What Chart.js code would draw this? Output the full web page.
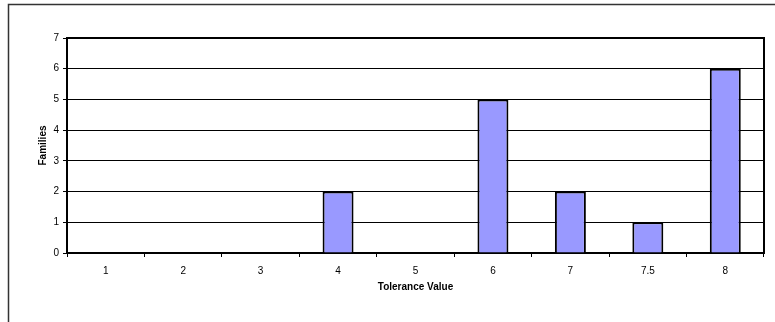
<!DOCTYPE html>
<html>
<head>
<meta charset="utf-8">
<script src="https://cdn.jsdelivr.net/npm/chart.js@4/dist/chart.umd.min.js"></script>
<style>
  html, body { margin: 0; padding: 0; background: #fff; }
  #wrap { width: 775px; height: 322px; position: relative; }
</style>
</head>
<body>
<div id="wrap"><canvas id="c" width="775" height="322"></canvas></div>
<script>
// Tolerance value categories and number of families in each
const toleranceValues = ['1', '2', '3', '4', '5', '6', '7', '7.5', '8'];
const families = [0, 0, 0, 2, 0, 5, 2, 1, 6];
const yTicks = [0, 1, 2, 3, 4, 5, 6, 7];

const FONT = 'Liberation Sans, Arial, sans-serif';

// Outer frame of the chart and border around the plot area
const frames = {
  id: 'frames',
  beforeDraw(chart) {
    const ctx = chart.ctx;
    ctx.save();
    ctx.strokeStyle = '#333';
    ctx.lineWidth = 1.5;
    ctx.strokeRect(8.5, 4.5, 900, 400);
    ctx.restore();
  },
  afterDatasetsDraw(chart) {
    const { ctx, chartArea: a } = chart;
    ctx.save();
    ctx.strokeStyle = '#000';
    ctx.lineWidth = 2;
    ctx.beginPath();
    ctx.moveTo(a.left, a.top);
    ctx.lineTo(a.right, a.top);
    ctx.lineTo(a.right, a.bottom);
    ctx.stroke();
    ctx.restore();
  }
};

new Chart(document.getElementById('c'), {
  type: 'bar',
  data: {
    labels: toleranceValues,
    datasets: [{
      data: families,
      backgroundColor: '#9999FF',
      borderColor: '#000',
      borderWidth: 2,
      categoryPercentage: 1,
      barPercentage: 0.4
    }]
  },
  options: {
    responsive: false,
    animation: false,
    events: [],
    layout: { padding: { left: 0, top: 38, right: 11, bottom: 0 } },
    plugins: { legend: { display: false }, tooltip: { enabled: false } },
    scales: {
      x: {
        grid: { drawOnChartArea: false, drawTicks: true, tickLength: 4, color: '#000', offset: true },
        border: { display: true, color: '#000', width: 2 },
        ticks: { color: '#000', font: { family: FONT, size: 10 }, padding: 8, maxRotation: 0 },
        title: { display: true, text: 'Tolerance Value', color: '#000', font: { family: FONT, size: 10, weight: 'bold' }, padding: { top: 0, bottom: 29 } },
        afterFit(scale) { scale.height = 69; }
      },
      y: {
        min: 0,
        max: 7,
        afterBuildTicks(scale) { scale.ticks = yTicks.map(v => ({ value: v })); },
        grid: { color: '#000', lineWidth: 1, tickLength: 4 },
        border: { display: true, color: '#000', width: 2 },
        ticks: { color: '#000', font: { family: FONT, size: 10 }, padding: 4 },
        title: { display: true, text: 'Families', color: '#000', font: { family: FONT, size: 10, weight: 'bold' }, padding: { top: 37, bottom: 0 } },
        afterFit(scale) { scale.width = 67; }
      }
    }
  },
  plugins: [frames]
});
</script>
</body>
</html>
